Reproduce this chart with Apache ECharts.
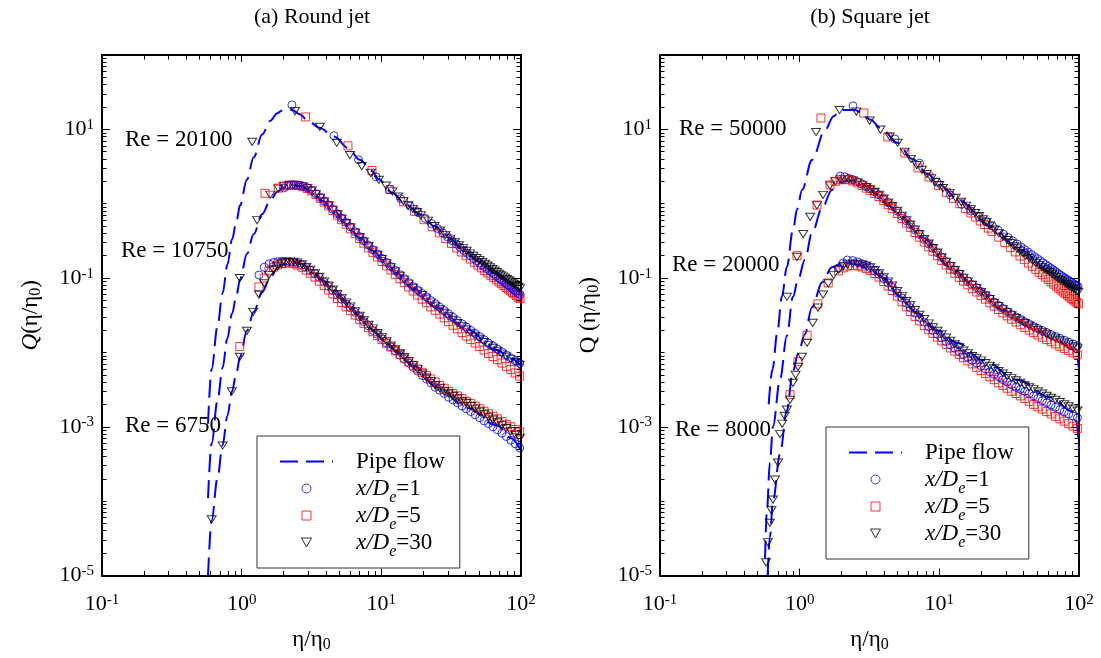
<!DOCTYPE html>
<html><head><meta charset="utf-8">
<script src="https://cdn.jsdelivr.net/npm/echarts@6/dist/echarts.min.js"></script>
<style>html,body{margin:0;padding:0;background:#fff}#c{width:1101px;height:658px}</style>
</head><body><div id="c"></div>
<script>
// ---------- tick values ----------
const xMajor = [0.1, 1, 10, 100];
const xMinor = [0.2,0.3,0.4,0.5,0.6,0.7,0.8,0.9,2,3,4,5,6,7,8,9,20,30,40,50,60,70,80,90];
const yMajor = [1e-5, 1e-3, 0.1, 10];
const yMinor = [2e-5,3e-5,4e-5,5e-5,6e-5,7e-5,8e-5,9e-5,1e-4,2e-4,3e-4,4e-4,5e-4,6e-4,7e-4,8e-4,9e-4,2e-3,3e-3,4e-3,5e-3,6e-3,7e-3,8e-3,9e-3,0.01,0.02,0.03,0.04,0.05,0.06,0.07,0.08,0.09,0.2,0.3,0.4,0.5,0.6,0.7,0.8,0.9,1,2,3,4,5,6,7,8,9,20,30,40,50,60,70,80,90,100];
const titles = ['(a) Round jet', '(b) Square jet'];
const reLabels = [['Re = 20100','Re = 10750','Re = 6750'],['Re = 50000','Re = 20000','Re = 8000']];

// ---------- (a) Round jet ----------
// Re = 20100
const a_hi_x1 = [2.29,4.58,6.87,9.16,11.45,13.74,16.03,18.32,20.61,22.9,25.19,27.48,29.77,32.06,34.35,36.64,38.93,41.22,43.51,45.8,48.09,50.38,52.67,54.96,57.25,59.54,61.83,64.12,66.41,68.7,70.99,73.28,75.57,77.86,80.15,82.44,84.73,87.02,89.31,91.6,93.89,96.18,98.47];
const a_hi_y1 = [21.3,8.2,3.9,2.3,1.55,1.17,0.93,0.76,0.635,0.54,0.465,0.405,0.357,0.318,0.286,0.259,0.236,0.216,0.199,0.184,0.171,0.16,0.15,0.141,0.133,0.126,0.119,0.113,0.107,0.102,0.097,0.093,0.089,0.085,0.081,0.078,0.075,0.072,0.069,0.066,0.064,0.062,0.06];
const a_hi_x5 = [2.87,5.77,8.57,11.5,14.4,17.3,20.2,23.1,26,28.9,31.8,34.7,37.6,40.5,43.4,46.3,49.2,52.1,55,57.9,60.8,63.7,66.6,69.5,72.4,75.3,78.2,81.1,84,86.9,89.8,92.7,95.6,98.5];
const a_hi_y5 = [14.7,6.0,2.8,1.55,1.06,0.79,0.61,0.49,0.405,0.34,0.292,0.254,0.224,0.2,0.18,0.163,0.149,0.137,0.126,0.117,0.109,0.102,0.095,0.089,0.084,0.079,0.075,0.071,0.067,0.064,0.061,0.058,0.055,0.053];
const a_hi_x30 = [1.19,2.41,3.63,4.8,5.96,7.24,8.4,9.6,10.8,12,13.2,14.4,15.6,16.8,18,19.2,21.6,24,26.4,28.8,31.2,33.6,36,38.4,40.8,43.2,45.6,48,50.4,52.8,55.2,57.6,60,62.4,64.8,67.2,69.6,72,74.4,76.8,79.2,81.6,84,86.4,88.8,91.2,93.6,96,98.4];
const a_hi_y30 = [6.8,17.6,10.8,6.6,4.5,3.2,2.6,2.1,1.75,1.46,1.25,1.08,0.95,0.85,0.77,0.7,0.59,0.5,0.435,0.38,0.338,0.303,0.275,0.252,0.232,0.214,0.199,0.186,0.174,0.164,0.155,0.147,0.139,0.132,0.126,0.12,0.114,0.109,0.105,0.101,0.097,0.093,0.09,0.087,0.084,0.081,0.078,0.076,0.073];
const a_hi_px = [0.574,0.61,0.67,0.73,0.79,0.853,0.92,0.973,1.09,1.22,1.4,1.6,1.8,1.95,2.3,2.6,3.0,3.6,4.6,5.8,7.0,8.6,9.5,12,15,19,24,30,40,50,65,80,100];
const a_hi_py = [0.0011,0.006,0.022,0.062,0.15,0.33,0.6,0.95,2.1,4.2,8.5,13,16.5,18,18.2,16,13,10.5,8.0,5.6,3.9,2.75,2.15,1.4,0.98,0.72,0.5,0.355,0.23,0.165,0.115,0.085,0.06];
// Re = 10750
const a_mid_x = [0.97,1.29,1.47,1.6,1.83,2.0,2.18,2.36,2.55,2.75,2.95,3.17,3.4,3.65,3.9,4.2,4.5,4.85,5.2,5.6,6.0,6.5,7.0,7.5,8.1,8.7,9.4,10.1,10.9,11.7,12.6,13.6,14.6,15.7,16.9,18.2,19.6,21,22.6,24.3,26.2,28.2,30.3,32.6,35.1,37.8,40.6,43.7,47,50.6,54.4,58.5,63,67.8,73,78.5,84.5,91,97.9];
const a_mid_y30 = [0.1,0.6,null,1.32,1.6,1.72,1.78,1.79,1.76,1.7,1.62,1.5,1.35,1.2,1.07,0.95,0.83,0.72,0.63,0.55,0.48,0.41,0.355,0.31,0.27,0.235,0.205,0.18,0.158,0.139,0.122,0.107,0.095,0.084,0.074,0.066,0.059,0.053,0.047,0.0425,0.038,0.034,0.0305,0.0275,0.0248,0.0224,0.0203,0.0184,0.0167,0.0152,0.0138,0.0126,0.0115,0.0105,0.0096,0.0088,0.0081,0.0074,0.0068];
const a_mid_y1 = [null,null,null,null,null,1.63,1.76,1.79,1.77,1.71,1.63,1.51,1.36,1.21,1.08,0.96,0.84,0.73,0.64,0.56,0.49,0.42,0.36,0.315,0.275,0.24,0.21,0.184,0.162,0.143,0.126,0.111,0.098,0.087,0.077,0.069,0.062,0.056,0.05,0.045,0.0405,0.0365,0.033,0.0297,0.0268,0.0242,0.0219,0.0198,0.018,0.0163,0.0148,0.0134,0.0122,0.0111,0.0101,0.0092,0.0084,0.0077,0.0071];
const a_mid_y5 = [null,null,1.38,null,1.62,1.73,1.78,1.78,1.75,1.69,1.6,1.48,1.33,1.18,1.05,0.93,0.81,0.7,0.61,0.53,0.46,0.395,0.34,0.295,0.255,0.222,0.192,0.167,0.146,0.128,0.112,0.098,0.087,0.076,0.067,0.059,0.052,0.0465,0.041,0.0368,0.0328,0.0292,0.026,0.0232,0.0207,0.0185,0.0166,0.0149,0.0134,0.012,0.0108,0.0097,0.0088,0.008,0.0072,0.0065,0.0059,0.0053,0.0048];
const a_mid_px = [0.574,0.61,0.67,0.73,0.79,0.853,0.92,0.973,1.09,1.22,1.4,1.6,1.8,2.0,2.3,2.7,3.2,3.8,4.5,5.7,7,8.7,10.5,13,17,25,41,67,85,100];
const a_mid_py = [1.1e-4,6e-4,2.2e-3,6.2e-3,0.0154,0.033,0.06,0.096,0.21,0.39,0.72,1.1,1.45,1.65,1.78,1.7,1.42,1.1,0.83,0.53,0.35,0.235,0.17,0.115,0.072,0.04,0.0205,0.0108,0.0083,0.0066];
// Re = 6750
const a_lo_x = [0.61,0.73,0.85,0.97,1.09,1.21,1.33,1.45,1.57,1.69,1.81,1.93,2.05,2.2,2.35,2.5,2.7,2.9,3.1,3.35,3.6,3.9,4.2,4.5,4.85,5.2,5.6,6.0,6.5,7.0,7.5,8.1,8.7,9.4,10.1,10.9,11.7,12.6,13.6,14.6,15.7,16.9,18.2,19.6,21,22.6,24.3,26.2,28.2,30.3,32.6,35.1,37.8,40.6,43.7,47,50.6,54.4,58.5,63,67.8,73,78.5,84.5,91,97.9];
const a_lo_y30 = [5.7e-5,5.6e-4,0.003,0.0087,0.0195,0.035,0.06,0.085,0.11,0.13,0.146,0.157,0.163,0.166,0.166,0.162,0.153,0.141,0.129,0.116,0.104,0.09,0.079,0.07,0.061,0.054,0.047,0.0415,0.0357,0.031,0.027,0.0235,0.021,0.0182,0.016,0.0141,0.0124,0.011,0.0097,0.0086,0.0076,0.0067,0.0059,0.0052,0.0046,0.0041,0.0036,0.0033,0.003,0.0028,0.0026,0.0024,0.0022,0.0021,0.0019,0.00175,0.0016,0.00147,0.00136,0.00125,0.00115,0.00105,0.00096,0.00087,0.00078,0.0007];
const a_lo_y1 = [null,null,null,null,null,null,0.11,0.14,0.155,0.162,0.166,0.168,0.168,0.166,0.163,0.158,0.15,0.139,0.127,0.114,0.102,0.088,0.077,0.068,0.059,0.052,0.045,0.04,0.0345,0.03,0.026,0.0227,0.0198,0.0175,0.0154,0.0135,0.0119,0.0105,0.0092,0.0081,0.0072,0.0063,0.0056,0.0049,0.0044,0.0039,0.0034,0.0031,0.0028,0.0025,0.0023,0.0021,0.0019,0.00175,0.0016,0.00145,0.00132,0.0012,0.0011,0.001,0.00091,0.00082,0.00074,0.00066,0.00059,0.00052];
const a_lo_y5 = [null,null,null,0.012,null,null,0.076,0.1,0.125,0.14,0.15,0.157,0.16,0.16,0.156,0.15,0.14,0.128,0.116,0.103,0.091,0.079,0.069,0.061,0.053,0.047,0.041,0.0365,0.0318,0.0279,0.0246,0.0216,0.019,0.0168,0.0149,0.0132,0.0118,0.0105,0.0094,0.0084,0.0075,0.0067,0.006,0.0054,0.0049,0.0044,0.004,0.0036,0.0033,0.003,0.0028,0.0026,0.0024,0.0022,0.00205,0.0019,0.00175,0.00162,0.0015,0.00139,0.00128,0.00118,0.00108,0.001,0.00092,0.00085];
const a_lo_px = [0.574,0.61,0.67,0.73,0.79,0.853,0.92,0.973,1.09,1.22,1.4,1.6,1.8,2.0,2.3,2.7,3.2,3.8,4.5,5.7,7,8.7,10.5,13,17,25,41,67,85,100];
const a_lo_py = [1e-5,5.5e-5,2e-4,5.6e-4,1.4e-3,3e-3,5.5e-3,8.7e-3,0.0195,0.035,0.065,0.1,0.135,0.155,0.165,0.155,0.125,0.094,0.07,0.048,0.031,0.02,0.0145,0.0102,0.0066,0.0034,0.0018,0.00105,0.0007,0.00048];

// ---------- (b) Square jet ----------
// Re = 50000
const b_hi_x30 = [1.31,1.93,2.55,3.17,3.79,4.41,5.03,5.65,6.27,6.89,7.51,8.13,8.75,9.37,9.99,10.61,11.85,13.09,14.33,15.57,16.81,18.05,19.29,20.53,21.77,23.01,24.87,26.73,28.59,30.45,32.31,34.17,36.03,37.89,39.75,41.61,44.09,46.57,49.05,51.53,54.01,56.49,58.97,61.45,63.93,66.41,68.89,71.37,73.85,76.33,78.81,81.29,83.77,86.25,88.73,91.21,93.69,96.17,98.65];
const b_hi_y30 = [9.2,18.2,17.3,13.1,9.9,8.0,6.6,5.0,4.0,3.3,2.85,2.5,2.2,1.97,1.78,1.62,1.38,1.2,1.06,0.94,0.84,0.75,0.68,0.615,0.56,0.51,0.45,0.4,0.36,0.325,0.295,0.27,0.25,0.232,0.216,0.202,0.186,0.172,0.16,0.15,0.141,0.133,0.126,0.12,0.114,0.108,0.103,0.098,0.094,0.09,0.087,0.083,0.08,0.077,0.074,0.072,0.07,0.067,0.065];
const b_hi_x5 = [1.42,2.88,4.28,5.67,7.03,8.43,9.83,11.23,12.63,14.03,15.43,16.83,18.23,19.63,21.03,22.43,23.83,26.63,29.43,32.23,35.03,37.83,40.63,43.43,46.23,49.03,51.83,54.63,57.43,60.23,63.03,65.83,68.63,71.43,74.23,77.03,79.83,82.63,85.43,88.23,91.03,93.83,96.63,99.43];
const b_hi_y5 = [14.2,16.6,7.9,4.8,3.03,2.29,1.75,1.42,1.18,1.0,0.86,0.75,0.66,0.585,0.525,0.47,0.425,0.355,0.3,0.258,0.225,0.198,0.177,0.159,0.144,0.131,0.12,0.111,0.103,0.096,0.089,0.083,0.078,0.073,0.069,0.065,0.062,0.059,0.056,0.053,0.051,0.049,0.047,0.045];
const b_hi_x1 = [2.41,4.81,7.21,9.61,12.01,14.41,16.81,19.21,21.61,24.01,26.41,28.81,31.21,33.61,36.01,38.41,40.81,43.21,45.61,48.01,50.41,52.81,55.21,57.61,60.01,62.41,64.81,67.21,69.61,72.01,74.41,76.81,79.21,81.61,84.01,86.41,88.81,91.21,93.61,96.01,98.41];
const b_hi_y1 = [20.7,7.4,3.5,1.95,1.3,0.98,0.8,0.67,0.575,0.5,0.44,0.39,0.35,0.315,0.287,0.263,0.242,0.224,0.208,0.194,0.182,0.171,0.161,0.152,0.144,0.137,0.13,0.124,0.118,0.113,0.108,0.104,0.1,0.096,0.093,0.09,0.087,0.084,0.081,0.079,0.077];
const b_hi_px = [0.6,0.64,0.69,0.746,0.81,0.895,0.96,1.04,1.225,1.52,1.75,1.94,2.49,2.8,3.2,3.9,5.0,6.4,8.3,10,14,23,38,62,90,100];
const b_hi_py = [0.002,0.006,0.018,0.056,0.141,0.445,0.85,1.53,3.88,9.8,15,18.2,18.2,16.5,13.5,10,6.6,4.0,2.5,1.8,1.1,0.5,0.24,0.12,0.075,0.065];
// Re = 20000
const b_mid_x = [0.81,0.957,1.06,1.19,1.33,1.47,1.65,1.8,1.95,2.1,2.25,2.4,2.6,2.8,3.0,3.2,3.45,3.7,4.0,4.3,4.6,5.0,5.4,5.8,6.2,6.7,7.2,7.8,8.4,9.0,9.7,10.4,11.2,12.0,12.9,13.9,14.9,16.0,17.2,18.5,19.9,21.4,23,24.7,26.5,28.5,30.6,32.9,35.4,38,40.9,44,47.3,50.8,54.6,58.7,63.1,67.8,72.9,78.4,84.3,90.6,97.4];
const b_mid_y30 = [0.056,0.193,0.39,0.665,0.95,1.31,1.75,2.0,2.12,2.15,2.12,2.05,1.93,1.8,1.67,1.56,1.44,1.32,1.17,1.04,0.93,0.8,0.69,0.6,0.525,0.45,0.39,0.335,0.29,0.253,0.22,0.19,0.165,0.145,0.128,0.113,0.101,0.09,0.081,0.073,0.065,0.058,0.052,0.0465,0.042,0.038,0.0345,0.0315,0.029,0.0268,0.0248,0.023,0.0214,0.02,0.0187,0.0175,0.0164,0.0154,0.0145,0.0136,0.0128,0.012,0.0113];
const b_mid_y5 = [null,0.2,null,null,0.96,null,1.79,2.0,2.1,2.12,2.1,2.02,1.9,1.76,1.62,1.5,1.37,1.25,1.1,0.97,0.86,0.74,0.635,0.55,0.48,0.41,0.355,0.305,0.263,0.23,0.2,0.173,0.15,0.132,0.116,0.102,0.091,0.081,0.072,0.065,0.058,0.052,0.0465,0.042,0.0378,0.034,0.031,0.028,0.0257,0.0236,0.0217,0.02,0.0185,0.0172,0.016,0.0149,0.0139,0.013,0.0121,0.0113,0.0106,0.0099,0.0093];
const b_mid_y1 = [null,null,null,null,null,null,null,null,2.35,2.3,2.2,2.1,1.97,1.83,1.69,1.57,1.44,1.31,1.16,1.03,0.92,0.79,0.68,0.59,0.52,0.445,0.385,0.33,0.287,0.25,0.218,0.189,0.165,0.145,0.128,0.113,0.101,0.091,0.082,0.074,0.066,0.059,0.053,0.0475,0.043,0.039,0.0355,0.0325,0.03,0.0278,0.0258,0.024,0.0224,0.021,0.0197,0.0185,0.0174,0.0164,0.0155,0.0146,0.0138,0.013,0.0123];
const b_mid_px = [0.565,0.583,0.612,0.644,0.723,0.81,0.895,0.973,1.09,1.225,1.45,1.7,2.0,2.3,2.6,3.0,3.57,4.3,5.2,7.6,11.9,18.6,28.5,44.5,69.5,90,96,100];
const b_mid_py = [1.7e-5,7.6e-5,3.3e-4,0.001,0.0043,0.0167,0.056,0.095,0.176,0.405,0.88,1.53,1.95,2.05,2.0,1.75,1.35,0.95,0.7,0.35,0.14,0.075,0.037,0.022,0.0145,0.011,0.0095,0.006];
// Re = 8000
const b_lo_x = [0.574,0.592,0.612,0.628,0.644,0.666,0.70,0.723,0.75,0.78,0.81,0.853,0.895,0.935,0.973,1.04,1.13,1.24,1.35,1.47,1.6,1.75,1.9,2.05,2.2,2.4,2.6,2.8,3.0,3.2,3.45,3.7,4.0,4.3,4.6,5.0,5.4,5.8,6.2,6.7,7.2,7.8,8.4,9.0,9.7,10.4,11.2,12.0,12.9,13.9,14.9,16.0,17.2,18.5,19.9,21.4,23,24.7,26.5,28.5,30.6,32.9,35.4,38,40.9,44,47.3,50.8,54.6,58.7,63.1,67.8,72.9,78.4,84.3,90.6,97.4];
const b_lo_y30 = [1.5e-5,2.8e-5,5.1e-5,7.5e-5,1.05e-4,1.95e-4,3.3e-4,8e-4,1.1e-3,1.4e-3,1.7e-3,2.3e-3,3.9e-3,5e-3,6.4e-3,8.7e-3,0.0135,0.025,0.04,0.06,0.085,0.11,0.13,0.145,0.153,0.157,0.156,0.152,0.147,0.14,0.128,0.116,0.102,0.09,0.079,0.067,0.057,0.049,0.043,0.037,0.032,0.028,0.0245,0.0218,0.0195,0.0175,0.0158,0.0143,0.013,0.0117,0.0106,0.0097,0.0089,0.0083,0.0078,0.0072,0.0066,0.0061,0.0056,0.0052,0.0048,0.0045,0.0042,0.0039,0.0036,0.0034,0.0032,0.003,0.0028,0.0026,0.00245,0.0023,0.00215,0.002,0.00188,0.00176,0.00165];
const b_lo_y1 = [null,null,null,null,null,null,null,null,null,null,null,null,null,null,null,null,null,null,null,null,null,null,0.137,0.16,0.175,0.172,0.165,0.156,0.147,0.138,0.125,0.112,0.098,0.086,0.075,0.063,0.054,0.046,0.04,0.034,0.0295,0.0255,0.0222,0.0197,0.0175,0.0157,0.014,0.0126,0.0114,0.0103,0.0094,0.0086,0.0079,0.0072,0.0066,0.006,0.0055,0.0051,0.0047,0.0043,0.004,0.0037,0.0034,0.0032,0.003,0.0028,0.0026,0.0024,0.00225,0.0021,0.00196,0.00183,0.0017,0.00159,0.00149,0.0014,0.00132];
const b_lo_y5 = [null,null,null,null,null,null,null,null,null,null,null,0.0027,null,null,0.0075,null,0.017,null,0.045,null,0.086,null,0.125,0.137,0.145,0.148,0.146,0.141,0.134,0.126,0.115,0.103,0.09,0.078,0.068,0.057,0.048,0.041,0.0355,0.0305,0.0265,0.023,0.0202,0.018,0.016,0.0143,0.0128,0.0115,0.0104,0.0094,0.0085,0.0077,0.007,0.0063,0.0057,0.0052,0.0047,0.0043,0.0039,0.0036,0.0033,0.003,0.0028,0.0026,0.0024,0.0022,0.002,0.00186,0.00173,0.0016,0.00149,0.00138,0.00128,0.00119,0.0011,0.00102,0.00095];
const b_lo_px = [0.59,0.612,0.644,0.723,0.81,0.895,0.973,1.09,1.225,1.45,1.7,2.0,2.3,2.6,3.2,4.0,5.2,6.9,9.6,13.4,20.5,36,62,90,96,100];
const b_lo_py = [1e-5,3.3e-5,1e-4,4.3e-4,0.00167,0.0056,0.0095,0.0176,0.0405,0.088,0.14,0.155,0.158,0.152,0.13,0.1,0.056,0.034,0.02,0.0135,0.0079,0.0043,0.0025,0.0016,0.0012,0.0005];

// ---------- styling / building ----------
const FONT = "'Liberation Serif','Times New Roman',Times,serif";
const BLUE = '#0000ff', RED = '#ff0000', BLACK = '#000000';
const TRI = 'path://M0,0L10,0L5,9Z';
const SQR = 'path://M0,0L10,0L10,10L0,10Z';
const CLEAR = 'rgba(0,0,0,0)';
const pts = (xs, ys) => xs.map((x, i) => [x, ys[i]]).filter(p => p[1] != null);

const powRich = {
  b: {fontSize: 22, fontFamily: FONT, color: '#000', lineHeight: 22},
  s: {fontSize: 15, fontFamily: FONT, color: '#000', lineHeight: 15, padding: [0, 0, 9, 0]}
};
const powFmt = v => '{b|10}{s|' + Math.round(Math.log10(v)) + '}';
const nameRich = {
  n: {fontSize: 23, fontFamily: FONT, color: '#000', lineHeight: 23},
  q: {fontSize: 23, fontFamily: FONT, fontStyle: 'italic', color: '#000', lineHeight: 23},
  s: {fontSize: 16, fontFamily: FONT, color: '#000', lineHeight: 16, padding: [10, 0, 0, 0]}
};

function axisPair(kind, gi, pos, major, minor, withLabels, name, nameGap) {
  const common = {gridIndex: gi, type: 'log', logBase: 10, position: pos,
    min: kind === 'x' ? 0.1 : 1e-5, max: 100, splitLine: {show: false}, silent: true};
  const majorAxis = Object.assign({}, common, {
    axisLine: {show: true, lineStyle: {color: '#000', width: 2}},
    axisTick: {show: true, inside: true, length: kind === 'x' ? 7 : 8, customValues: major, lineStyle: {color: '#000', width: 1}},
    axisLabel: withLabels ? {show: true, customValues: major, formatter: powFmt, margin: kind === 'x' ? 18 : 8, rich: powRich} : {show: false}
  });
  if (name) {
    Object.assign(majorAxis, {name: name, nameLocation: 'middle', nameGap: nameGap,
      nameRotate: kind === 'y' ? 90 : 0, nameTextStyle: {rich: nameRich, fontFamily: FONT, fontSize: 23, color: '#000'}});
  }
  const minorAxis = Object.assign({}, common, {
    axisLine: {show: false},
    axisTick: {show: true, inside: true, length: 4.5, customValues: minor, lineStyle: {color: '#000', width: 1}},
    axisLabel: {show: false}
  });
  return [majorAxis, minorAxis];
}

const xAxes = [], yAxes = [];
const yNames = ['{q|Q}{n|(η/η}{s|0}{n|)}', '{n|Q (η/η}{s|0}{n|)}'];
[0, 1].forEach(gi => {
  xAxes.push(...axisPair('x', gi, 'bottom', xMajor, xMinor, true, '{n|η/η}{s|0}', 53));
  xAxes.push(...axisPair('x', gi, 'top', xMajor, xMinor, false));
  yAxes.push(...axisPair('y', gi, 'left', yMajor, yMinor, true, yNames[gi], 60));
  yAxes.push(...axisPair('y', gi, 'right', yMajor, yMinor, false));
});

const markStyle = {
  xd1: {symbol: 'circle', symbolSize: 8, color: BLUE},
  xd5: {symbol: SQR, symbolSize: 8, color: RED},
  xd30: {symbol: TRI, symbolSize: [9, 8], color: BLACK}
};
function sc(name, gi, xs, ys) {
  const m = markStyle[name];
  return {type: 'scatter', name: name, xAxisIndex: gi * 4, yAxisIndex: gi * 4,
    data: pts(xs, ys), symbol: m.symbol, symbolSize: m.symbolSize, symbolKeepAspect: true,
    itemStyle: {color: CLEAR, borderColor: m.color, borderWidth: 1},
    emphasis: {disabled: true}, silent: true, z: 3};
}
function pipe(gi, xs, ys) {
  return {type: 'line', name: 'Pipe flow', xAxisIndex: gi * 4, yAxisIndex: gi * 4,
    data: pts(xs, ys), symbol: 'none', showSymbol: false, smooth: 0.35, smoothMonotone: 'x', clip: true,
    lineStyle: {color: BLUE, width: 2, type: [18, 8]}, itemStyle: {color: BLUE},
    emphasis: {disabled: true}, silent: true, z: 2};
}

const series = [
  pipe(0, a_hi_px, a_hi_py), pipe(0, a_mid_px, a_mid_py), pipe(0, a_lo_px, a_lo_py),
  sc('xd5', 0, a_hi_x5, a_hi_y5), sc('xd1', 0, a_hi_x1, a_hi_y1), sc('xd30', 0, a_hi_x30, a_hi_y30),
  sc('xd30', 0, a_mid_x, a_mid_y30), sc('xd5', 0, a_mid_x, a_mid_y5), sc('xd1', 0, a_mid_x, a_mid_y1),
  sc('xd1', 0, a_lo_x, a_lo_y1), sc('xd5', 0, a_lo_x, a_lo_y5), sc('xd30', 0, a_lo_x, a_lo_y30),
  pipe(1, b_hi_px, b_hi_py), pipe(1, b_mid_px, b_mid_py), pipe(1, b_lo_px, b_lo_py),
  sc('xd5', 1, b_hi_x5, b_hi_y5), sc('xd1', 1, b_hi_x1, b_hi_y1), sc('xd30', 1, b_hi_x30, b_hi_y30),
  sc('xd1', 1, b_mid_x, b_mid_y1), sc('xd30', 1, b_mid_x, b_mid_y30), sc('xd5', 1, b_mid_x, b_mid_y5),
  sc('xd5', 1, b_lo_x, b_lo_y5), sc('xd30', 1, b_lo_x, b_lo_y30), sc('xd1', 1, b_lo_x, b_lo_y1)
];

const legendText = {
  'Pipe flow': '{sp| }{n|Pipe flow}',
  xd1: '{sp| }{i|x/D}{s|e}{n|=1}',
  xd5: '{sp| }{i|x/D}{s|e}{n|=5}',
  xd30: '{sp| }{i|x/D}{s|e}{n|=30}'
};
function legend(left, top) {
  return {left: left, top: top, orient: 'vertical',
    data: [{name: 'Pipe flow', itemStyle: {color: CLEAR, borderColor: CLEAR, borderWidth: 0}}, 'xd1', 'xd5', 'xd30'],
    itemWidth: 53, itemHeight: 9, itemGap: -8, padding: [8, 15, 8, 22],
    backgroundColor: '#fff', borderColor: '#333', borderWidth: 1, selectedMode: false,
    itemStyle: {borderWidth: 1},
    formatter: n => legendText[n],
    textStyle: {fontFamily: FONT, fontSize: 23, color: '#000', rich: {
      sp: {width: 18, fontSize: 23, lineHeight: 23, padding: [6, 0, 6, 0]},
      n: {fontFamily: FONT, fontSize: 23, color: '#000', lineHeight: 23, padding: [6, 0, 6, 0]},
      i: {fontFamily: FONT, fontSize: 23, fontStyle: 'italic', color: '#000', lineHeight: 23, padding: [6, 0, 6, 0]},
      s: {fontFamily: FONT, fontSize: 16, fontStyle: 'italic', color: '#000', lineHeight: 16, padding: [19, 0, 0, 0]}
    }}};
}

function txt(t, x, y, align, size) {
  return {type: 'text', x: x, y: y, silent: true, z: 10,
    style: {text: t, fontFamily: FONT, fontSize: size, fill: '#000', textAlign: align, textVerticalAlign: 'middle'}};
}
const graphic = [
  txt(titles[0], 312, 17, 'center', 22), txt(titles[1], 870, 17, 'center', 22),
  txt(reLabels[0][0], 125, 140, 'left', 23), txt(reLabels[0][1], 121, 251, 'left', 23), txt(reLabels[0][2], 125, 426, 'left', 23),
  txt(reLabels[1][0], 679, 129, 'left', 23), txt(reLabels[1][1], 672, 265, 'left', 23), txt(reLabels[1][2], 675, 430, 'left', 23)
];

const chart = echarts.init(document.getElementById('c'), null, {renderer: 'canvas'});
chart.setOption({
  animation: false,
  backgroundColor: '#fff',
  grid: [{left: 102, top: 55, width: 419, height: 521}, {left: 660, top: 55, width: 419, height: 521}],
  xAxis: xAxes, yAxis: yAxes,
  legend: [legend(257, 436), legend(826, 427)],
  graphic: graphic,
  series: series
});
</script></body></html>
